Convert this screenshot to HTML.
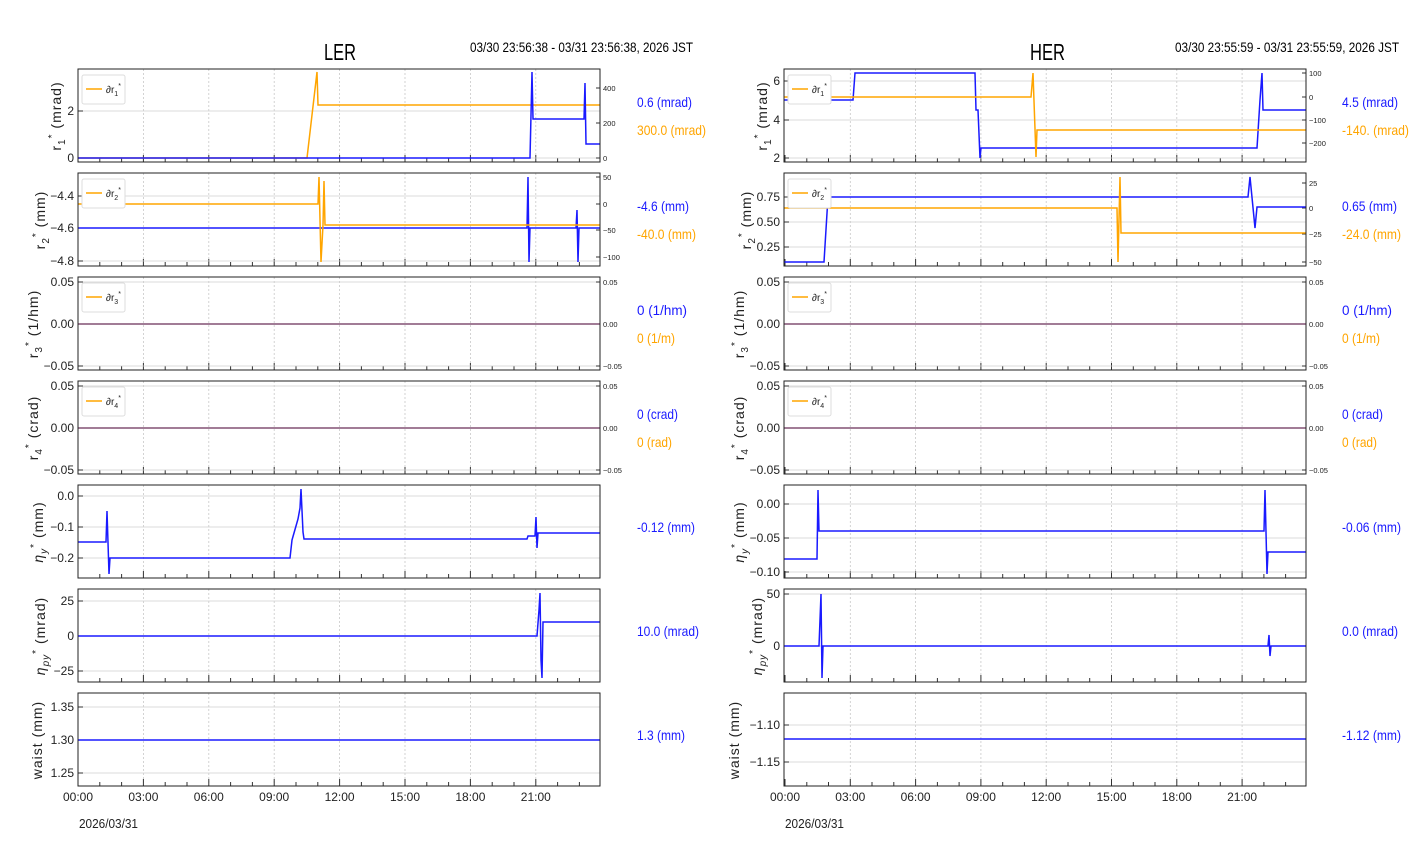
<!DOCTYPE html>
<html><head><meta charset="utf-8"><style>
html,body{margin:0;padding:0;background:#fff}
svg{display:block}
text{font-family:"Liberation Sans",sans-serif}
.t{font-size:11px;fill:#222}
.st{font-size:7.5px;fill:#222}
.yl{font-family:"DejaVu Sans","Liberation Sans",sans-serif;font-size:14px;fill:#222;letter-spacing:1px}
.b{fill:#1a1aff;font-size:14px}
.o{fill:#ffa500;font-size:14px}
.g{stroke:#c8c8c8;stroke-width:0.8;stroke-dasharray:2,2}
.h{stroke:#d0d0d0;stroke-width:0.8}
.fr{fill:none;stroke:#222;stroke-width:1}
.bl{fill:none;stroke:#1a1aff;stroke-width:1.5}
.or{fill:none;stroke:#ffa500;stroke-width:1.5}
</style></head><body>
<svg width="1412" height="864" viewBox="0 0 1412 864" xmlns="http://www.w3.org/2000/svg">
<defs>
<g id="vgL">
<line class="g" x1="143.4" y1="0" x2="143.4" y2="93"/><line class="g" x1="208.8" y1="0" x2="208.8" y2="93"/><line class="g" x1="274.2" y1="0" x2="274.2" y2="93"/><line class="g" x1="339.6" y1="0" x2="339.6" y2="93"/><line class="g" x1="405" y1="0" x2="405" y2="93"/><line class="g" x1="470.4" y1="0" x2="470.4" y2="93"/><line class="g" x1="535.8" y1="0" x2="535.8" y2="93"/>
<path stroke="#333" stroke-width="1" d="M78,93v-7M99.8,93v-4M121.6,93v-4M143.4,93v-7M165.2,93v-4M187,93v-4M208.8,93v-7M230.6,93v-4M252.4,93v-4M274.2,93v-7M296,93v-4M317.8,93v-4M339.6,93v-7M361.4,93v-4M383.2,93v-4M405,93v-7M426.8,93v-4M448.6,93v-4M470.4,93v-7M492.2,93v-4M514,93v-4M535.8,93v-7M557.6,93v-4M579.4,93v-4"/>
</g>
<g id="vgR">
<line class="g" x1="850.3" y1="0" x2="850.3" y2="93"/><line class="g" x1="915.6" y1="0" x2="915.6" y2="93"/><line class="g" x1="980.9" y1="0" x2="980.9" y2="93"/><line class="g" x1="1046.2" y1="0" x2="1046.2" y2="93"/><line class="g" x1="1111.5" y1="0" x2="1111.5" y2="93"/><line class="g" x1="1176.8" y1="0" x2="1176.8" y2="93"/><line class="g" x1="1242.1" y1="0" x2="1242.1" y2="93"/>
<path stroke="#333" stroke-width="1" d="M785,93v-7M806.8,93v-4M828.5,93v-4M850.3,93v-7M872,93v-4M893.8,93v-4M915.6,93v-7M937.4,93v-4M959.1,93v-4M980.9,93v-7M1002.7,93v-4M1024.4,93v-4M1046.2,93v-7M1068,93v-4M1089.7,93v-4M1111.5,93v-7M1133.3,93v-4M1155,93v-4M1176.8,93v-7M1198.6,93v-4M1220.3,93v-4M1242.1,93v-7M1263.9,93v-4M1285.6,93v-4"/>
</g>
</defs>

<text x="324" y="60" textLength="32" lengthAdjust="spacingAndGlyphs" style="font-size:23px;fill:#000">LER</text>
<text x="470" y="52" textLength="223" lengthAdjust="spacingAndGlyphs" style="font-size:14px;fill:#000">03/30 23:56:38 - 03/31 23:56:38, 2026 JST</text>
<text x="1030" y="60" textLength="35" lengthAdjust="spacingAndGlyphs" style="font-size:23px;fill:#000">HER</text>
<text x="1175" y="52" textLength="224" lengthAdjust="spacingAndGlyphs" style="font-size:14px;fill:#000">03/30 23:55:59 - 03/31 23:55:59, 2026 JST</text>

<use href="#vgL" y="69"/><use href="#vgL" y="173"/><use href="#vgL" y="277"/><use href="#vgL" y="381"/><use href="#vgL" y="485"/><use href="#vgL" y="589"/><use href="#vgL" y="693"/>
<use href="#vgR" y="69"/><use href="#vgR" y="173"/><use href="#vgR" y="277"/><use href="#vgR" y="381"/><use href="#vgR" y="485"/><use href="#vgR" y="589"/><use href="#vgR" y="693"/>

<path class="h" d="M78,158H600M78,111H600M78,196H600M78,228H600M78,261H600M78,282H600M78,324H600M78,366H600M78,386H600M78,428H600M78,470H600M78,496H600M78,527H600M78,558H600M78,601H600M78,636H600M78,671H600M78,707H600M78,740H600M78,773H600"/>
<path class="h" d="M784,81H1306M784,120H1306M784,158H1306M784,197H1306M784,222H1306M784,247H1306M784,282H1306M784,324H1306M784,366H1306M784,386H1306M784,428H1306M784,470H1306M784,504H1306M784,538H1306M784,572H1306M784,594H1306M784,646H1306M784,725H1306M784,762H1306"/>

<path stroke="#333" d="M78,158h5M78,111h5M78,196h5M78,228h5M78,261h5M78,282h5M78,324h5M78,366h5M78,386h5M78,428h5M78,470h5M78,496h5M78,527h5M78,558h5M78,601h5M78,636h5M78,671h5M78,707h5M78,740h5M78,773h5"/>
<path stroke="#333" d="M784,81h5M784,120h5M784,158h5M784,197h5M784,222h5M784,247h5M784,282h5M784,324h5M784,366h5M784,386h5M784,428h5M784,470h5M784,504h5M784,538h5M784,572h5M784,594h5M784,646h5M784,725h5M784,762h5"/>
<path stroke="#333" d="M600,158h-4M600,123h-4M600,88h-4M600,177h-4M600,204h-4M600,230h-4M600,257h-4M600,282h-4M600,324h-4M600,366h-4M600,386h-4M600,428h-4M600,470h-4"/>
<path stroke="#333" d="M1306,73h-4M1306,97h-4M1306,120h-4M1306,143h-4M1306,183h-4M1306,208h-4M1306,234h-4M1306,262h-4M1306,282h-4M1306,324h-4M1306,366h-4M1306,386h-4M1306,428h-4M1306,470h-4"/>

<path class="or" d="M78,158H307L317,72L318,105H600"/>
<path class="bl" d="M78,158H530L532,72L533,119H584L585,83L586,144H600"/>
<path class="bl" d="M78,228H527L528,177L529,262L530,228H576L577,210L578,262L579,228H600"/>
<path class="or" d="M78,204H318L319,177L321,262L323,225L324,181L325,225H600"/>
<path class="bl" d="M78,324H600M78,428H600"/>
<path class="or" style="opacity:0.55" d="M78,324H600M78,428H600"/>
<path class="bl" d="M78,542H106L107,511L109,574L110,558H290L292,540L294,533L296,526L298,519L300,508L301,489L303,532L304,539H527L528,536H535L536,517L537,548L538,533H600"/>
<path class="bl" d="M78,636H537L539,610L540,593L541,660L542,678L543,622H600"/>
<path class="bl" d="M78,740H600"/>

<path class="bl" d="M784,100H853L855,73H975L976,110H978L980,158L981,148H1257L1260,100L1262,73L1263,110H1306"/>
<path class="or" d="M784,97H1031L1033,73L1036,157L1037,130H1306"/>
<path class="bl" d="M784,262H824L828,197H1248L1250,177L1255,228L1257,207H1306"/>
<path class="or" d="M784,208H1117L1118,262L1120,177L1121,233H1306"/>
<path class="bl" d="M784,324H1306M784,428H1306"/>
<path class="or" style="opacity:0.55" d="M784,324H1306M784,428H1306"/>
<path class="bl" d="M784,559H817L818,490L819,531H1264L1265,490L1267,574L1268,552H1306"/>
<path class="bl" d="M784,646H819L821,594L822,678L823,646H1268L1269,635L1270,656L1271,646H1306"/>
<path class="bl" d="M784,739H1306"/>

<rect class="fr" x="78" y="69" width="522" height="93"/><rect class="fr" x="78" y="173" width="522" height="93"/><rect class="fr" x="78" y="277" width="522" height="93"/><rect class="fr" x="78" y="381" width="522" height="93"/><rect class="fr" x="78" y="485" width="522" height="93"/><rect class="fr" x="78" y="589" width="522" height="93"/><rect class="fr" x="78" y="693" width="522" height="93"/>
<rect class="fr" x="784" y="69" width="522" height="93"/><rect class="fr" x="784" y="173" width="522" height="93"/><rect class="fr" x="784" y="277" width="522" height="93"/><rect class="fr" x="784" y="381" width="522" height="93"/><rect class="fr" x="784" y="485" width="522" height="93"/><rect class="fr" x="784" y="589" width="522" height="93"/><rect class="fr" x="784" y="693" width="522" height="93"/>

<g>
<rect x="82" y="75" width="43" height="29" rx="2" fill="#fff" stroke="#ddd"/><line x1="86" y1="89" x2="102" y2="89" stroke="#ffa500" stroke-width="1.5"/><text x="106" y="93" class="st" style="font-size:10px">∂r<tspan font-size="7" dy="3">1</tspan><tspan font-size="7" dy="-8">*</tspan></text>
<rect x="82" y="179" width="43" height="29" rx="2" fill="#fff" stroke="#ddd"/><line x1="86" y1="193" x2="102" y2="193" stroke="#ffa500" stroke-width="1.5"/><text x="106" y="197" class="st" style="font-size:10px">∂r<tspan font-size="7" dy="3">2</tspan><tspan font-size="7" dy="-8">*</tspan></text>
<rect x="82" y="283" width="43" height="29" rx="2" fill="#fff" stroke="#ddd"/><line x1="86" y1="297" x2="102" y2="297" stroke="#ffa500" stroke-width="1.5"/><text x="106" y="301" class="st" style="font-size:10px">∂r<tspan font-size="7" dy="3">3</tspan><tspan font-size="7" dy="-8">*</tspan></text>
<rect x="82" y="387" width="43" height="29" rx="2" fill="#fff" stroke="#ddd"/><line x1="86" y1="401" x2="102" y2="401" stroke="#ffa500" stroke-width="1.5"/><text x="106" y="405" class="st" style="font-size:10px">∂r<tspan font-size="7" dy="3">4</tspan><tspan font-size="7" dy="-8">*</tspan></text>
<rect x="788" y="75" width="43" height="29" rx="2" fill="#fff" stroke="#ddd"/><line x1="792" y1="89" x2="808" y2="89" stroke="#ffa500" stroke-width="1.5"/><text x="812" y="93" class="st" style="font-size:10px">∂r<tspan font-size="7" dy="3">1</tspan><tspan font-size="7" dy="-8">*</tspan></text>
<rect x="788" y="179" width="43" height="29" rx="2" fill="#fff" stroke="#ddd"/><line x1="792" y1="193" x2="808" y2="193" stroke="#ffa500" stroke-width="1.5"/><text x="812" y="197" class="st" style="font-size:10px">∂r<tspan font-size="7" dy="3">2</tspan><tspan font-size="7" dy="-8">*</tspan></text>
<rect x="788" y="283" width="43" height="29" rx="2" fill="#fff" stroke="#ddd"/><line x1="792" y1="297" x2="808" y2="297" stroke="#ffa500" stroke-width="1.5"/><text x="812" y="301" class="st" style="font-size:10px">∂r<tspan font-size="7" dy="3">3</tspan><tspan font-size="7" dy="-8">*</tspan></text>
<rect x="788" y="387" width="43" height="29" rx="2" fill="#fff" stroke="#ddd"/><line x1="792" y1="401" x2="808" y2="401" stroke="#ffa500" stroke-width="1.5"/><text x="812" y="405" class="st" style="font-size:10px">∂r<tspan font-size="7" dy="3">4</tspan><tspan font-size="7" dy="-8">*</tspan></text>
</g>

<g class="t" text-anchor="end" style="font-size:12px">
<text x="74" y="162">0</text><text x="74" y="115">2</text>
<text x="74" y="200">−4.4</text><text x="74" y="232">−4.6</text><text x="74" y="265">−4.8</text>
<text x="74" y="286">0.05</text><text x="74" y="328">0.00</text><text x="74" y="370">−0.05</text>
<text x="74" y="390">0.05</text><text x="74" y="432">0.00</text><text x="74" y="474">−0.05</text>
<text x="74" y="500">0.0</text><text x="74" y="531">−0.1</text><text x="74" y="562">−0.2</text>
<text x="74" y="605">25</text><text x="74" y="640">0</text><text x="74" y="675">−25</text>
<text x="74" y="711">1.35</text><text x="74" y="744">1.30</text><text x="74" y="777">1.25</text>
</g>
<g class="t" text-anchor="end" style="font-size:12px">
<text x="780" y="85">6</text><text x="780" y="124">4</text><text x="780" y="162">2</text>
<text x="780" y="201">0.75</text><text x="780" y="226">0.50</text><text x="780" y="251">0.25</text>
<text x="780" y="286">0.05</text><text x="780" y="328">0.00</text><text x="780" y="370">−0.05</text>
<text x="780" y="390">0.05</text><text x="780" y="432">0.00</text><text x="780" y="474">−0.05</text>
<text x="780" y="508">0.00</text><text x="780" y="542">−0.05</text><text x="780" y="576">−0.10</text>
<text x="780" y="598">50</text><text x="780" y="650">0</text>
<text x="780" y="729">−1.10</text><text x="780" y="766">−1.15</text>
</g>
<g class="st">
<text x="603" y="161">0</text><text x="603" y="126">200</text><text x="603" y="91">400</text>
<text x="603" y="180">50</text><text x="603" y="207">0</text><text x="603" y="233">−50</text><text x="603" y="260">−100</text>
<text x="603" y="285">0.05</text><text x="603" y="327">0.00</text><text x="603" y="369">−0.05</text>
<text x="603" y="389">0.05</text><text x="603" y="431">0.00</text><text x="603" y="473">−0.05</text>
<text x="1309" y="76">100</text><text x="1309" y="100">0</text><text x="1309" y="123">−100</text><text x="1309" y="146">−200</text>
<text x="1309" y="186">25</text><text x="1309" y="211">0</text><text x="1309" y="237">−25</text><text x="1309" y="265">−50</text>
<text x="1309" y="285">0.05</text><text x="1309" y="327">0.00</text><text x="1309" y="369">−0.05</text>
<text x="1309" y="389">0.05</text><text x="1309" y="431">0.00</text><text x="1309" y="473">−0.05</text>
</g>

<g class="yl" text-anchor="middle">
<text transform="translate(61,116) rotate(-90)">r<tspan font-size="10" dy="4">1</tspan><tspan font-size="10" dy="-10">*</tspan><tspan dy="6"> (mrad)</tspan></text>
<text transform="translate(45,220) rotate(-90)">r<tspan font-size="10" dy="4">2</tspan><tspan font-size="10" dy="-10">*</tspan><tspan dy="6"> (mm)</tspan></text>
<text transform="translate(38,324) rotate(-90)">r<tspan font-size="10" dy="4">3</tspan><tspan font-size="10" dy="-10">*</tspan><tspan dy="6"> (1/hm)</tspan></text>
<text transform="translate(38,428) rotate(-90)">r<tspan font-size="10" dy="4">4</tspan><tspan font-size="10" dy="-10">*</tspan><tspan dy="6"> (crad)</tspan></text>
<text transform="translate(43,532) rotate(-90)"><tspan font-style="italic">η</tspan><tspan font-size="10" dy="4" font-style="italic">y</tspan><tspan font-size="10" dy="-10">*</tspan><tspan dy="6"> (mm)</tspan></text>
<text transform="translate(45,636) rotate(-90)"><tspan font-style="italic">η</tspan><tspan font-size="10" dy="4" font-style="italic">py</tspan><tspan font-size="10" dy="-10">*</tspan><tspan dy="6"> (mrad)</tspan></text>
<text transform="translate(42,740) rotate(-90)">waist (mm)</text>
<text transform="translate(767,116) rotate(-90)">r<tspan font-size="10" dy="4">1</tspan><tspan font-size="10" dy="-10">*</tspan><tspan dy="6"> (mrad)</tspan></text>
<text transform="translate(751,220) rotate(-90)">r<tspan font-size="10" dy="4">2</tspan><tspan font-size="10" dy="-10">*</tspan><tspan dy="6"> (mm)</tspan></text>
<text transform="translate(744,324) rotate(-90)">r<tspan font-size="10" dy="4">3</tspan><tspan font-size="10" dy="-10">*</tspan><tspan dy="6"> (1/hm)</tspan></text>
<text transform="translate(744,428) rotate(-90)">r<tspan font-size="10" dy="4">4</tspan><tspan font-size="10" dy="-10">*</tspan><tspan dy="6"> (crad)</tspan></text>
<text transform="translate(744,532) rotate(-90)"><tspan font-style="italic">η</tspan><tspan font-size="10" dy="4" font-style="italic">y</tspan><tspan font-size="10" dy="-10">*</tspan><tspan dy="6"> (mm)</tspan></text>
<text transform="translate(762,636) rotate(-90)"><tspan font-style="italic">η</tspan><tspan font-size="10" dy="4" font-style="italic">py</tspan><tspan font-size="10" dy="-10">*</tspan><tspan dy="6"> (mrad)</tspan></text>
<text transform="translate(739,740) rotate(-90)">waist (mm)</text>
</g>

<g class="t" text-anchor="middle" style="font-size:12px">
<text x="78" y="801">00:00</text><text x="143.4" y="801">03:00</text><text x="208.8" y="801">06:00</text><text x="274.2" y="801">09:00</text><text x="339.6" y="801">12:00</text><text x="405" y="801">15:00</text><text x="470.4" y="801">18:00</text><text x="535.8" y="801">21:00</text>
<text x="785" y="801">00:00</text><text x="850.3" y="801">03:00</text><text x="915.6" y="801">06:00</text><text x="980.9" y="801">09:00</text><text x="1046.2" y="801">12:00</text><text x="1111.5" y="801">15:00</text><text x="1176.8" y="801">18:00</text><text x="1242.1" y="801">21:00</text>
</g>
<text x="79" y="828" class="t" style="font-size:13px" textLength="59" lengthAdjust="spacingAndGlyphs">2026/03/31</text>
<text x="785" y="828" class="t" style="font-size:13px" textLength="59" lengthAdjust="spacingAndGlyphs">2026/03/31</text>

<g style="font-size:14px">
<text x="637" y="107" class="b" textLength="55" lengthAdjust="spacingAndGlyphs">0.6 (mrad)</text><text x="637" y="135" class="o" textLength="69" lengthAdjust="spacingAndGlyphs">300.0 (mrad)</text>
<text x="637" y="211" class="b" textLength="52" lengthAdjust="spacingAndGlyphs">-4.6 (mm)</text><text x="637" y="239" class="o" textLength="59" lengthAdjust="spacingAndGlyphs">-40.0 (mm)</text>
<text x="637" y="315" class="b" textLength="50" lengthAdjust="spacingAndGlyphs">0 (1/hm)</text><text x="637" y="343" class="o" textLength="38" lengthAdjust="spacingAndGlyphs">0 (1/m)</text>
<text x="637" y="419" class="b" textLength="41" lengthAdjust="spacingAndGlyphs">0 (crad)</text><text x="637" y="447" class="o" textLength="35" lengthAdjust="spacingAndGlyphs">0 (rad)</text>
<text x="637" y="532" class="b" textLength="58" lengthAdjust="spacingAndGlyphs">-0.12 (mm)</text>
<text x="637" y="636" class="b" textLength="62" lengthAdjust="spacingAndGlyphs">10.0 (mrad)</text>
<text x="637" y="740" class="b" textLength="48" lengthAdjust="spacingAndGlyphs">1.3 (mm)</text>
<text x="1342" y="107" class="b" textLength="56" lengthAdjust="spacingAndGlyphs">4.5 (mrad)</text><text x="1342" y="135" class="o" textLength="67" lengthAdjust="spacingAndGlyphs">-140. (mrad)</text>
<text x="1342" y="211" class="b" textLength="55" lengthAdjust="spacingAndGlyphs">0.65 (mm)</text><text x="1342" y="239" class="o" textLength="59" lengthAdjust="spacingAndGlyphs">-24.0 (mm)</text>
<text x="1342" y="315" class="b" textLength="50" lengthAdjust="spacingAndGlyphs">0 (1/hm)</text><text x="1342" y="343" class="o" textLength="38" lengthAdjust="spacingAndGlyphs">0 (1/m)</text>
<text x="1342" y="419" class="b" textLength="41" lengthAdjust="spacingAndGlyphs">0 (crad)</text><text x="1342" y="447" class="o" textLength="35" lengthAdjust="spacingAndGlyphs">0 (rad)</text>
<text x="1342" y="532" class="b" textLength="59" lengthAdjust="spacingAndGlyphs">-0.06 (mm)</text>
<text x="1342" y="636" class="b" textLength="56" lengthAdjust="spacingAndGlyphs">0.0 (mrad)</text>
<text x="1342" y="740" class="b" textLength="59" lengthAdjust="spacingAndGlyphs">-1.12 (mm)</text>
</g>
</svg>
</body></html>
